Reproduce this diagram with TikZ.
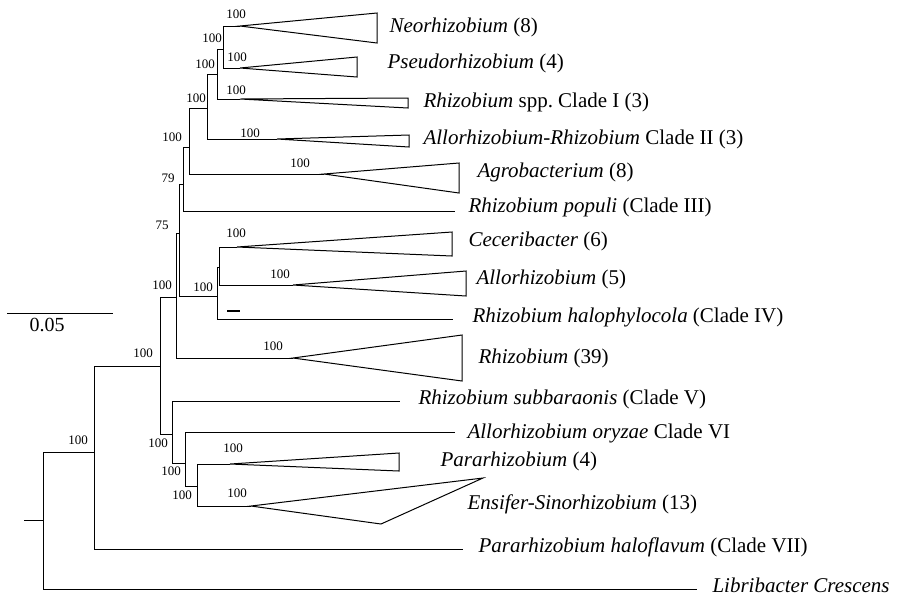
\documentclass[tikz,border=0pt]{standalone}
\usepackage{fontspec}
\setmainfont{Liberation Serif}
\begin{document}
\begin{tikzpicture}
[x=0.5pt,y=-0.5pt,line width=0.5pt,
 boot/.style={inner sep=0pt,font=\fontsize{6.5}{7}\selectfont},
 taxon/.style={anchor=west,inner sep=0pt,font=\fontsize{10.5}{12}\selectfont}]
\useasboundingbox (0,0) rectangle (898,596);

% scale bar
\draw (7,313)--(113,313);
\draw (47,325) node[taxon,anchor=center,font=\fontsize{10}{12}\selectfont]{0.05};

% internal nodes (x of the node, y where it joins its parent)
\coordinate (root) at (24,520);
\coordinate (n0) at (43,520);
\coordinate (nA) at (94,452);
\coordinate (nB) at (160,366);
\coordinate (nC) at (176,297);
\coordinate (nD) at (172,434);
\coordinate (nE) at (179,233);
\coordinate (nF) at (183,184);
\coordinate (nG) at (217,296);
\coordinate (nH) at (189,147);
\coordinate (nI) at (207,108);
\coordinate (nJ) at (217,74);
\coordinate (nK) at (223,49);
\coordinate (nL) at (219,267);
\coordinate (nM) at (185,463);
\coordinate (nN) at (197,486);

% tips and clade apices
\coordinate (neo) at (240,26);
\coordinate (pseudo) at (240,68);
\coordinate (cladeI) at (240,99);
\coordinate (cladeII) at (277,139);
\coordinate (agro) at (324,174);
\coordinate (populi) at (455,211);
\coordinate (cece) at (237,247);
\coordinate (allo) at (293,285);
\coordinate (halophy) at (453,319);
\coordinate (rhizo) at (293,358);
\coordinate (subb) at (400,401);
\coordinate (oryzae) at (455,432);
\coordinate (para) at (230,464);
\coordinate (ensifer) at (251,506);
\coordinate (haloflav) at (463,549);
\coordinate (libri) at (697,589);

% branches
\draw (root)--(n0);
\draw (n0) |- (nA);
\draw (n0) |- (libri);
\draw (nA) |- (nB);
\draw (nA) |- (haloflav);
\draw (nB) |- (nC);
\draw (nB) |- (nD);
\draw (nC) |- (nE);
\draw (nC) |- (rhizo);
\draw (nE) |- (nF);
\draw (nE) |- (nG);
\draw (nF) |- (nH);
\draw (nF) |- (populi);
\draw (nH) |- (nI);
\draw (nH) |- (agro);
\draw (nI) |- (nJ);
\draw (nI) |- (cladeII);
\draw (nJ) |- (nK);
\draw (nJ) |- (cladeI);
\draw (nK) |- (neo);
\draw (nK) |- (pseudo);
\draw (nG) |- (nL);
\draw (nG) |- (halophy);
\draw (nL) |- (cece);
\draw (nL) |- (allo);
\draw (nD) |- (subb);
\draw (nD) |- (nM);
\draw (nM) |- (oryzae);
\draw (nM) |- (nN);
\draw (nN) |- (para);
\draw (nN) |- (ensifer);

% collapsed clades
\draw (neo)--(377,13)--(377,43)--cycle;
\draw (pseudo)--(357,57)--(357,77)--cycle;
\draw (cladeI)--(408,98)--(408,108)--cycle;
\draw (cladeII)--(409,135)--(409,147)--cycle;
\draw (agro)--(459,163)--(459,193)--cycle;
\draw (cece)--(452,232)--(452,256)--cycle;
\draw (allo)--(466,271)--(466,296)--cycle;
\draw (rhizo)--(462,335)--(462,381)--cycle;
\draw (para)--(399,453)--(399,471)--cycle;
\draw (ensifer)--(483,478)--(381,524)--cycle;
\draw[line width=1pt] (227,311)--(240,311);

% bootstrap values
\draw (78,440) node[boot]{100};
\draw (143,353) node[boot]{100};
\draw (162,285) node[boot]{100};
\draw (158,443) node[boot]{100};
\draw (162,225) node[boot]{75};
\draw (168,178) node[boot]{79};
\draw (203,287) node[boot]{100};
\draw (172,137) node[boot]{100};
\draw (196,98) node[boot]{100};
\draw (205,64) node[boot]{100};
\draw (212,38) node[boot]{100};
\draw (171,471) node[boot]{100};
\draw (182,495) node[boot]{100};
\draw (236,14) node[boot]{100};
\draw (237,57) node[boot]{100};
\draw (236,90) node[boot]{100};
\draw (250,133) node[boot]{100};
\draw (300,163) node[boot]{100};
\draw (236,233) node[boot]{100};
\draw (280,274) node[boot]{100};
\draw (273,346) node[boot]{100};
\draw (233,448) node[boot]{100};
\draw (237,493) node[boot]{100};

% taxa
\node[taxon] (tneo) at (389,27) {\textit{Neorhizobium} (8)};
\node[taxon] (tpseudo) at (387,63) {\textit{Pseudorhizobium} (4)};
\node[taxon] (tcladeI) at (423,102) {\textit{Rhizobium} spp.\ Clade I (3)};
\node[taxon] (tcladeII) at (423,139) {\textit{Allorhizobium-Rhizobium} Clade II (3)};
\node[taxon] (tagro) at (477,172) {\textit{Agrobacterium} (8)};
\node[taxon] (tpopuli) at (468,207) {\textit{Rhizobium populi} (Clade III)};
\node[taxon] (tcece) at (468,241) {\textit{Ceceribacter} (6)};
\node[taxon] (tallo) at (476,279) {\textit{Allorhizobium} (5)};
\node[taxon] (thalophy) at (472,317) {\textit{Rhizobium halophylocola} (Clade IV)};
\node[taxon] (trhizo) at (478,358) {\textit{Rhizobium} (39)};
\node[taxon] (tsubb) at (418,399) {\textit{Rhizobium subbaraonis} (Clade V)};
\node[taxon] (toryzae) at (467,433) {\textit{Allorhizobium oryzae} Clade VI};
\node[taxon] (tpara) at (440,461) {\textit{Pararhizobium} (4)};
\node[taxon] (tensifer) at (467,504) {\textit{Ensifer-Sinorhizobium} (13)};
\node[taxon] (thaloflav) at (478,547) {\textit{Pararhizobium haloflavum} (Clade VII)};
\node[taxon] (tlibri) at (712,585) {\textit{Libribacter Crescens}};

\end{tikzpicture}
\end{document}
